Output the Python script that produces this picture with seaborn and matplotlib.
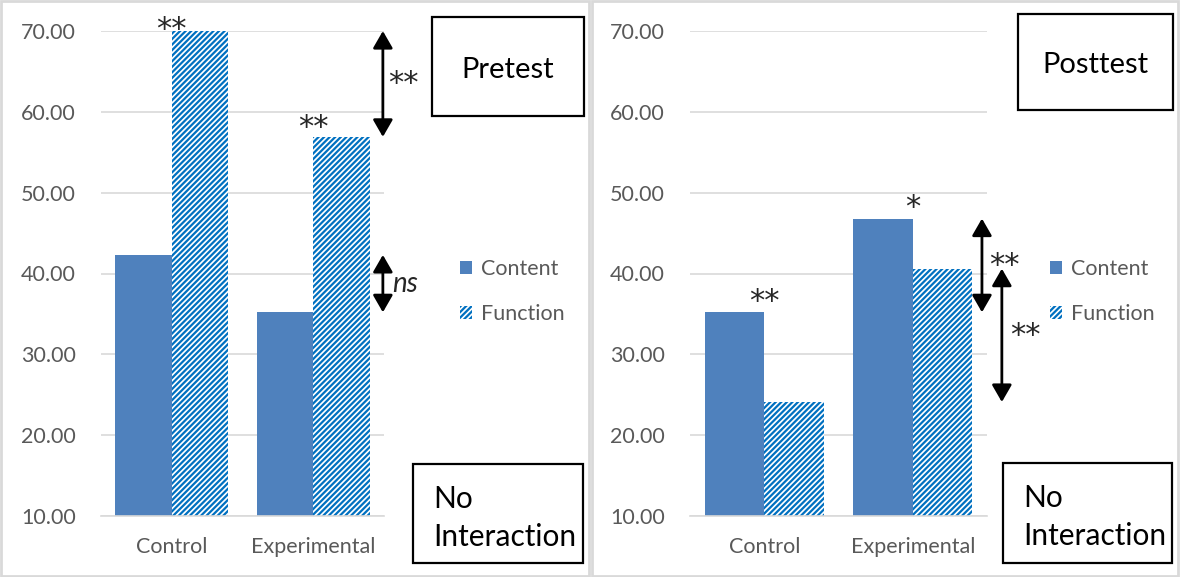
import matplotlib
matplotlib.use("Agg")
import matplotlib.pyplot as plt
from matplotlib.patches import Rectangle, Patch
import matplotlib.transforms as mtransforms
import seaborn as sns
import pandas as pd

# ---- data ----
groups = ["Control", "Experimental"]
measures = ["Content", "Function"]
pretest_content = [42.3, 35.2]
pretest_function = [70.0, 56.9]
posttest_content = [35.2, 46.8]
posttest_function = [24.1, 40.6]
y_ticks = [10, 20, 30, 40, 50, 60, 70]
panel_titles = ["Pretest", "Posttest"]
note_lines = ["No", "Interaction"]

# significance marks over each group
pre_group_marks = ["**", "**"]
post_group_marks = ["**", "*"]

W, H = 1180, 577
SOLID = "#4F81BD"
STRIPE = "#0070C0"
GRID = "#D9D9D9"
TXT = "#595959"
HATCH = "//////"

sns.set_theme(style="white")
plt.rcParams["font.family"] = ["Lato", "DejaVu Sans"]
plt.rcParams["hatch.linewidth"] = 1.6


def fx(px):
    return px / W


def fy(py):
    return 1 - py / H


fig = plt.figure(figsize=(W / 100, H / 100), dpi=100)

# chart frames
for x0, x1 in [(1, 589), (592, 1178)]:
    fig.add_artist(Rectangle((fx(x0), fy(576)), fx(x1) - fx(x0), fy(1) - fy(576),
                             transform=fig.transFigure, fill=False,
                             edgecolor=GRID, linewidth=2.0))


def draw_panel(rect, content, function, marks, mark_offsets, title_box, note_box, legend_x):
    ax = fig.add_axes(rect)
    df = pd.DataFrame({
        "group": groups * 2,
        "measure": [measures[0]] * 2 + [measures[1]] * 2,
        "score": content + function,
    })
    sns.barplot(data=df, x="group", y="score", hue="measure", order=groups,
                hue_order=measures, palette=[SOLID, STRIPE], width=0.8,
                gap=0, legend=False, ax=ax, saturation=1)
    for bar in ax.containers[0]:
        bar.set_linewidth(0)
    for bar in ax.containers[1]:
        bar.set_facecolor("white")
        bar.set_edgecolor(STRIPE)
        bar.set_hatch(HATCH)
        bar.set_linewidth(0)

    ax.set_xlim(-0.5, 1.5)
    ax.set_ylim(y_ticks[0], y_ticks[-1])
    ax.set_yticks(y_ticks)
    ax.set_yticklabels([f"{v:.2f}" for v in y_ticks])
    ax.set_xlabel("")
    ax.set_ylabel("")
    ax.yaxis.grid(True, color=GRID, linewidth=1.2)
    ax.set_axisbelow(True)
    for s in ["top", "right", "left"]:
        ax.spines[s].set_visible(False)
    ax.spines["bottom"].set_color(GRID)
    ax.spines["bottom"].set_linewidth(1.2)
    ax.tick_params(axis="y", length=0, pad=18, labelsize=15.5, labelcolor=TXT)
    ax.tick_params(axis="x", length=0, pad=15, labelsize=15.5, labelcolor=TXT)

    for i, (m, off) in enumerate(zip(marks, mark_offsets)):
        top = max(content[i], function[i])
        ax.annotate(m, xy=(i, top), xytext=(0, off), textcoords="offset points",
                    ha="center", va="center", fontsize=22,
                    family="DejaVu Sans", annotation_clip=False)

    # legend
    handles = [Patch(facecolor=SOLID, edgecolor="none", linewidth=0),
               Patch(facecolor="white", edgecolor=STRIPE, hatch=HATCH, linewidth=0)]
    fig.legend(handles, measures, loc="center left",
               bbox_to_anchor=(fx(legend_x), fy(291.5)), frameon=False,
               fontsize=15.5, labelcolor=TXT, handlelength=0.56, handleheight=0.56,
               handletextpad=0.4, labelspacing=1.15, borderpad=0, borderaxespad=0)

    # title box
    (bx0, by0, bx1, by1), title = title_box
    fig.add_artist(Rectangle((fx(bx0), fy(by1)), fx(bx1) - fx(bx0), fy(by0) - fy(by1),
                             transform=fig.transFigure, fill=False,
                             edgecolor="black", linewidth=1.6))
    fig.text(fx((bx0 + bx1) / 2), fy((by0 + by1) / 2 + 3), title, ha="center",
             va="center", fontsize=21, color="black")

    # note box
    nx0, ny0, nx1, ny1 = note_box
    fig.add_artist(Rectangle((fx(nx0), fy(ny1)), fx(nx1) - fx(nx0), fy(ny0) - fy(ny1),
                             transform=fig.transFigure, fill=False,
                             edgecolor="black", linewidth=1.6))
    fig.text(fx(nx0 + 20), fy(ny0 + 35), note_lines[0], ha="left", va="center",
             fontsize=21.5, color="black")
    fig.text(fx(nx0 + 20), fy(ny0 + 73), note_lines[1], ha="left", va="center",
             fontsize=21.5, color="black")
    return ax


def bracket(ax, xfrac, y0, y1, label, label_dx, italic=False):
    trans = mtransforms.blended_transform_factory(ax.transAxes, ax.transData)
    ax.annotate("", xy=(xfrac, y0), xytext=(xfrac, y1), xycoords=trans,
                textcoords=trans, annotation_clip=False,
                arrowprops=dict(arrowstyle="<|-|>,head_length=0.52,head_width=0.3",
                                color="black", lw=2, mutation_scale=20,
                                shrinkA=0, shrinkB=0))
    ax.annotate(label, xy=(xfrac, (y0 + y1) / 2), xycoords=trans,
                xytext=(label_dx, 0), textcoords="offset points",
                ha="center", va="center", annotation_clip=False,
                fontsize=20 if italic else 22,
                family=["Lato", "DejaVu Sans"] if italic else "DejaVu Sans",
                style="italic" if italic else "normal")


ax1 = draw_panel([fx(101), fy(516), fx(384) - fx(101), fy(31) - fy(516)],
                 pretest_content, pretest_function, pre_group_marks, [1, 7],
                 ((432, 17, 584, 116), panel_titles[0]), (413, 464, 583, 563), 460)
bracket(ax1, 0.996, pretest_function[0], pretest_function[1], "**", 15)
bracket(ax1, 0.996, pretest_content[0], pretest_content[1], "ns", 16, italic=True)

ax2 = draw_panel([fx(690), fy(516), fx(987) - fx(690), fy(31) - fy(516)],
                 posttest_content, posttest_function, post_group_marks, [8, 8],
                 ((1018, 14, 1173, 110), panel_titles[1]), (1003, 463, 1172, 563), 1050)
bracket(ax2, 0.983, posttest_content[1], posttest_content[0], "**", 16)
bracket(ax2, 1.05, posttest_function[1], posttest_function[0], "**", 17)

fig.savefig("out.png", dpi=100)
